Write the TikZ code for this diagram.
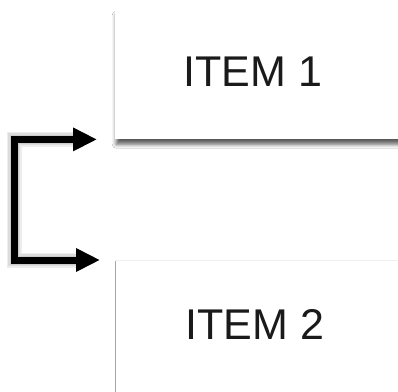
\documentclass[tikz,border=0pt]{standalone}
\usepackage{fontspec}
\setmainfont{Liberation Sans}
\usetikzlibrary{arrows.meta,shadows.blur}
\definecolor{txt}{HTML}{1A1A1A}
\tikzset{
  itembox/.style={rectangle, fill=white, draw=none, inner sep=0pt, anchor=north west},
  itemtext/.style={font=\fontsize{43}{50}\selectfont, text=txt, inner sep=0pt},
  bracket/.style={line width=7pt, miter limit=10, line join=miter,
     {Triangle[length=24pt,width=22pt]}-{Triangle[length=24pt,width=22pt]}},
  bracketshadow/.style={bracket, draw=black, opacity=0.07}
}
\begin{document}
\begin{tikzpicture}[x=1pt,y=-1pt]
\useasboundingbox (0,0) rectangle (398,391);
\clip (0,0) rectangle (398,391);
\fill[white] (0,0) rectangle (398,391);
% boxes
\node[itembox, minimum width=320pt, minimum height=129pt,
  blur shadow={shadow xshift=1pt, shadow yshift=-5pt, shadow blur radius=4pt, shadow opacity=65}] (box1) at (115,10) {};
\node[itembox, minimum width=320pt, minimum height=160pt] (box2) at (115,260) {};
\draw[black!35, line width=1pt] (box2.north west) -- ([yshift=-200pt]box2.north west);
\draw[black!6, line width=1pt] (box2.north west) -- (box2.north east);
% texts
\node[itemtext] (t1) at (253,72) {ITEM 1};
\node[itemtext] (t2) at (255,324) {ITEM 2};
% bracket shadow
\begin{scope}[shift={(2,4)}]
\foreach \w in {15,12,9}{
  \draw[bracketshadow, line width=\w pt, shorten <=18pt, shorten >=15pt]
    (box1.south west) -- ++(-101,0) |- (box2.north west);
}
\end{scope}
% bracket
\draw[bracket, shorten <=18pt, shorten >=15pt]
  (box1.south west) -- ++(-101,0) |- (box2.north west);
\end{tikzpicture}
\end{document}
